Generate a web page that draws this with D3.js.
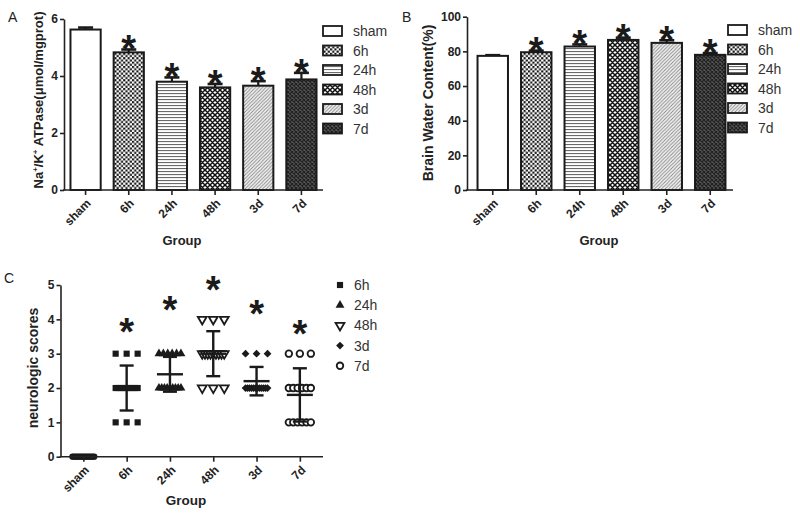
<!DOCTYPE html>
<html><head><meta charset="utf-8">
<script src="https://cdn.jsdelivr.net/npm/d3@7"></script>
<style>body{margin:0;background:#fff} svg{display:block} text{font-family:"Liberation Sans",Arial,sans-serif}</style>
</head><body>
<svg id="c" width="800" height="524"></svg>
<script>
// ---------- data ----------
const groups = ["sham","6h","24h","48h","3d","7d"];
const atpaseMean = [5.63, 4.83, 3.80, 3.60, 3.66, 3.88];
const atpaseErr  = [0.07, 0.10, 0.15, 0.12, 0.16, 0.23];
const waterMean  = [77.4, 79.5, 82.8, 86.6, 84.9, 78.0];
const waterErr   = [0.4, 0.9, 1.2, 1.3, 1.5, 1.0];
const significant = [false, true, true, true, true, true];
const atpaseTicks = [0, 2, 4, 6];
const waterTicks  = [0, 20, 40, 60, 80, 100];
const scoreTicks  = [0, 1, 2, 3, 4, 5];
const scoreSham = [0,0,0,0,0,0,0,0,0,0,0,0,0,0,0];
const score6h   = [1,1,1,2,2,2,2,2,2,2,2,2,3,3,3];
const score24h  = [2,2,2,2,2,2,2,2,2,3,3,3,3,3,3];
const score48h  = [2,2,2,3,3,3,3,3,3,3,3,3,4,4,4];
const score3d   = [2,2,2,2,2,2,2,2,2,2,2,2,3,3,3];
const score7d   = [1,1,1,1,1,1,2,2,2,2,2,2,3,3,3];
const scoreStarPos = [null, 3.85, 4.5, 5.1, 4.4, 3.8];
const scoreLegend = ["6h","24h","48h","3d","7d"];

// ---------- setup ----------
const svg = d3.select("#c");
const defs = svg.append("defs");
function pat(id, w, h, bg, build){
  const p = defs.append("pattern").attr("id", id).attr("patternUnits","userSpaceOnUse")
    .attr("width", w).attr("height", h);
  p.append("rect").attr("width", w).attr("height", h).attr("fill", bg);
  build(p);
}
pat("p6h", 4.4, 4.4, "#fff", p => {
  p.append("rect").attr("x",0).attr("y",0).attr("width",2.1).attr("height",2.1).attr("fill","#111");
  p.append("rect").attr("x",2.2).attr("y",2.2).attr("width",2.1).attr("height",2.1).attr("fill","#111");
});
pat("p24h", 4, 3, "#fff", p => {
  p.append("rect").attr("x",0).attr("y",0).attr("width",4).attr("height",1.1).attr("fill","#6a6a6a");
});
pat("p48h", 5, 5, "#fff", p => {
  p.append("path").attr("d","M0,0L5,5M5,0L0,5M-1,1L1,-1M4,6L6,4M-1,4L1,6M4,-1L6,1")
    .attr("stroke","#111").attr("stroke-width",1.5);
});
pat("p3d", 3.5, 3.5, "#f6f6f6", p => {
  p.append("path").attr("d","M0,3.5L3.5,0M-1,1L1,-1M2.5,4.5L4.5,2.5")
    .attr("stroke","#8a8a8a").attr("stroke-width",1);
});
pat("p7d", 4, 4, "#555", p => {
  p.append("path").attr("d","M0,0L4,4M4,0L0,4").attr("stroke","#1e1e1e").attr("stroke-width",1.1);
});
const fills = ["#fff","url(#p6h)","url(#p24h)","url(#p48h)","url(#p3d)","url(#p7d)"];
const INK = "#1a1a1a";

function styleAxis(sel){
  sel.selectAll("path,line").attr("stroke","#222").attr("stroke-width",1.6);
  sel.selectAll("text").attr("font-size","12px").attr("font-weight","bold").attr("fill","#222");
}

function star(g, cx, cy){
  g.append("text").attr("x", cx).attr("y", cy + 21).attr("text-anchor","middle")
    .attr("font-size","38px").attr("font-weight","bold").attr("fill",INK).text("*");
}

function xAxis(g, x, y0, ax, xEnd){
  const a = g.append("g").attr("transform",`translate(0,${y0})`)
    .call(d3.axisBottom(x).tickSize(5).tickSizeOuter(0));
  a.select(".domain").remove();
  a.append("line").attr("x1", ax).attr("x2", xEnd).attr("y1",0).attr("y2",0);
  styleAxis(a);
  a.selectAll(".tick text").attr("y",0).attr("dy",0)
    .attr("transform","translate(6,14) rotate(-45)").attr("text-anchor","end");
}

function legendBars(g, lx, ly, step){
  groups.forEach((d,i) => {
    const yy = ly + i*step;
    g.append("rect").attr("x", lx).attr("y", yy-5).attr("width",19).attr("height",10)
      .attr("fill", fills[i]).attr("stroke", INK).attr("stroke-width",1.8);
    g.append("text").attr("x", lx+30).attr("y", yy+5).attr("font-size","14px").attr("fill","#333").text(d);
  });
}

function barPanel(o){
  const g = svg.append("g");
  const x = d3.scaleBand().domain(groups).range(o.xr).paddingInner(0.3).paddingOuter(0.15);
  const y = d3.scaleLinear().domain(o.yd).range(o.yr);
  groups.forEach((d,i) => {
    const cx = x(d) + x.bandwidth()/2;
    const top = y(o.mean[i] + o.err[i]);
    g.append("line").attr("x1",cx).attr("x2",cx).attr("y1",y(o.mean[i])).attr("y2",top)
      .attr("stroke",INK).attr("stroke-width",2.2);
    g.append("line").attr("x1",cx-7.5).attr("x2",cx+7.5).attr("y1",top).attr("y2",top)
      .attr("stroke",INK).attr("stroke-width",2.6);
    if (significant[i]) star(g, cx, top - 8);
  });
  g.selectAll("rect.bar").data(groups).join("rect").attr("class","bar")
    .attr("x", d => x(d)).attr("width", x.bandwidth())
    .attr("y", (d,i) => y(o.mean[i])).attr("height", (d,i) => y(0) - y(o.mean[i]))
    .attr("fill", (d,i) => fills[i]).attr("stroke", INK).attr("stroke-width", 2);
  const ya = g.append("g").attr("transform",`translate(${o.ax},0)`)
    .call(d3.axisLeft(y).tickValues(o.ticks).tickSize(4).tickSizeOuter(0).tickPadding(2).tickFormat(d3.format("d")));
  styleAxis(ya);
  xAxis(g, x, y(0), o.ax - 1, o.xEnd);
  g.append("text").attr("transform",`translate(${o.titleX},${o.titleY}) rotate(-90)`)
    .attr("text-anchor","middle").attr("font-size", o.titleSize).attr("font-weight","bold").attr("fill","#222")
    .html(o.title);
  g.append("text").attr("x", o.groupX).attr("y", 245).attr("text-anchor","middle")
    .attr("font-size","13px").attr("font-weight","bold").attr("fill","#222").text("Group");
  legendBars(g, o.lx, o.ly, 19.5);
  g.append("text").attr("x", o.letterX).attr("y", 22).attr("font-size","14px").attr("fill","#222").text(o.letter);
}

barPanel({
  xr:[64,323], yd:[0,6], yr:[190,19], ax:64, xEnd:323, mean:atpaseMean, err:atpaseErr, ticks:atpaseTicks,
  title:'Na<tspan dy="-5" font-size="8px">+</tspan><tspan dy="5">/K</tspan><tspan dy="-5" font-size="8px">+</tspan><tspan dy="5"> ATPase(μmol/mgprot)</tspan>',
  titleX:43, titleY:100, titleSize:"13px", groupX:182, lx:323, ly:31, letter:"A", letterX:8
});
barPanel({
  xr:[471,732], yd:[0,100], yr:[190,16.7], ax:467, xEnd:733, mean:waterMean, err:waterErr, ticks:waterTicks,
  title:"Brain Water Content(%)", titleX:433, titleY:103, titleSize:"14px", groupX:599, lx:728, ly:30, letter:"B", letterX:402
});

// ---------- panel C ----------
(function(){
  const g = svg.append("g");
  const scoreData = [scoreSham, score6h, score24h, score48h, score3d, score7d];
  const x = d3.scalePoint().domain(groups).range([61.7, 321.5]).padding(0.5);
  const y = d3.scaleLinear().domain([0,5]).range([456.7, 285]);
  const sym = [
    {t:d3.symbolCircle, s:30, fill:INK, stroke:"none", rot:0},
    {t:d3.symbolSquare, s:38, fill:INK, stroke:"none", rot:0},
    {t:d3.symbolTriangle, s:34, fill:INK, stroke:"none", rot:0},
    {t:d3.symbolTriangle, s:34, fill:"#fff", stroke:INK, rot:180},
    {t:d3.symbolSquare, s:30, fill:INK, stroke:"none", rot:45},
    {t:d3.symbolCircle, s:34, fill:"#fff", stroke:INK, rot:0}
  ];
  function mark(parent, k, px, py){
    parent.append("path").attr("d", d3.symbol(sym[k].t, sym[k].s)())
      .attr("fill", sym[k].fill).attr("stroke", sym[k].stroke).attr("stroke-width", 1.8)
      .attr("transform", `translate(${px},${py}) rotate(${sym[k].rot})`);
  }
  scoreData.forEach((arr,i) => {
    const cx = x(groups[i]);
    const byVal = d3.group(arr, v => v);
    byVal.forEach((vals, v) => {
      const k = vals.length;
      vals.forEach((_, j) => {
        const off = k > 1 ? -11 + 22*j/(k-1) : 0;
        mark(g, i, cx + off, y(v));
      });
    });
  });
  scoreData.forEach((arr,i) => {
    const cx = x(groups[i]);
    const m = d3.mean(arr), sd = d3.deviation(arr) || 0;
    const ln = (x1,y1,x2,y2,w) => g.append("line").attr("x1",x1).attr("y1",y1).attr("x2",x2).attr("y2",y2)
      .attr("stroke",INK).attr("stroke-width",w);
    ln(cx-13, y(m), cx+13, y(m), 2.4);
    if (sd > 0){
      ln(cx, y(m-sd), cx, y(m+sd), 2.4);
      ln(cx-7, y(m-sd), cx+7, y(m-sd), 2.4);
      ln(cx-7, y(m+sd), cx+7, y(m+sd), 2.4);
    }
    if (scoreStarPos[i] !== null) star(g, cx, y(scoreStarPos[i]));
  });
  const ya = g.append("g").attr("transform","translate(60.5,0)")
    .call(d3.axisLeft(y).tickValues(scoreTicks).tickSize(4).tickSizeOuter(0).tickPadding(2).tickFormat(d3.format("d")));
  styleAxis(ya);
  xAxis(g, x, y(0), 59.7, 323);
  g.append("text").attr("transform","translate(38,368) rotate(-90)").attr("text-anchor","middle")
    .attr("font-size","14px").attr("font-weight","bold").attr("fill","#222").text("neurologic scores");
  g.append("text").attr("x",186).attr("y",505).attr("text-anchor","middle")
    .attr("font-size","13.5px").attr("font-weight","bold").attr("fill","#222").text("Group");
  scoreLegend.forEach((d,i) => {
    const yy = 285 + i*20.2;
    mark(g, i+1, 340, yy);
    g.append("text").attr("x",354).attr("y",yy+5).attr("font-size","14px").attr("fill","#333").text(d);
  });
  g.append("text").attr("x",4).attr("y",283).attr("font-size","14px").attr("fill","#222").text("C");
})();
</script>
</body></html>
